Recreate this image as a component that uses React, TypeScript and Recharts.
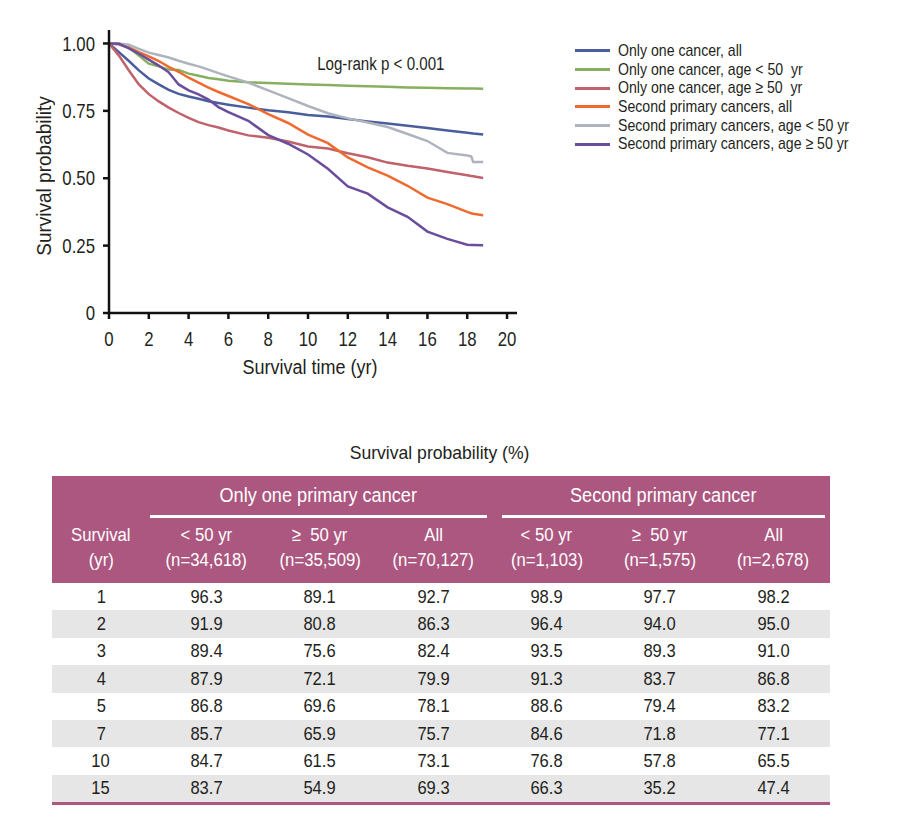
import React from 'react'
import { LineChart, Line, XAxis, YAxis } from 'recharts'

// survival curves
const times = [0, 0.5, 1, 1.5, 2, 2.5, 3, 3.5, 4, 4.5, 5, 5.5, 6, 7, 8, 9, 10, 11, 12, 13, 14, 15, 16, 17, 18, 18.2, 18.3, 18.8]
const oneAll = [1, 0.968, 0.935, 0.9, 0.87, 0.848, 0.828, 0.813, 0.803, 0.795, 0.786, 0.779, 0.773, 0.762, 0.752, 0.745, 0.735, 0.729, 0.72, 0.711, 0.703, 0.695, 0.686, 0.677, 0.669, 0.667, 0.666, 0.662]
const oneYoung = [1, 0.998, 0.985, 0.955, 0.925, 0.915, 0.903, 0.902, 0.888, 0.88, 0.872, 0.867, 0.862, 0.856, 0.853, 0.851, 0.848, 0.846, 0.843, 0.841, 0.839, 0.837, 0.836, 0.834, 0.833, 0.833, 0.833, 0.832]
const oneOld = [1, 0.955, 0.9, 0.848, 0.812, 0.785, 0.762, 0.742, 0.724, 0.708, 0.697, 0.688, 0.677, 0.659, 0.65, 0.636, 0.618, 0.61, 0.593, 0.578, 0.558, 0.546, 0.536, 0.523, 0.511, 0.508, 0.507, 0.501]
const secAll = [1, 0.997, 0.985, 0.968, 0.952, 0.935, 0.913, 0.895, 0.873, 0.855, 0.836, 0.82, 0.805, 0.775, 0.738, 0.705, 0.662, 0.63, 0.577, 0.54, 0.51, 0.472, 0.428, 0.404, 0.375, 0.37, 0.368, 0.363]
const secYoung = [1, 1, 0.995, 0.98, 0.966, 0.957, 0.948, 0.936, 0.925, 0.915, 0.903, 0.89, 0.878, 0.855, 0.826, 0.797, 0.768, 0.741, 0.722, 0.707, 0.69, 0.664, 0.638, 0.594, 0.584, 0.581, 0.56, 0.56]
const secOld = [1, 0.999, 0.982, 0.962, 0.94, 0.918, 0.893, 0.848, 0.826, 0.811, 0.792, 0.764, 0.745, 0.713, 0.66, 0.628, 0.588, 0.535, 0.47, 0.443, 0.392, 0.357, 0.302, 0.275, 0.253, 0.252, 0.252, 0.251]

const xTicks = [0, 2, 4, 6, 8, 10, 12, 14, 16, 18, 20]
const yTicks = [0, 0.25, 0.5, 0.75, 1]

const series = [
  { key: 'oneAll', name: 'Only one cancer, all', color: '#4a5d9c', values: oneAll },
  { key: 'oneYoung', name: 'Only one cancer, age < 50  yr', color: '#86b05f', values: oneYoung },
  { key: 'oneOld', name: 'Only one cancer, age \u2265 50  yr', color: '#bf626b', values: oneOld },
  { key: 'secAll', name: 'Second primary cancers, all', color: '#ef6a2e', values: secAll },
  { key: 'secYoung', name: 'Second primary cancers, age < 50 yr', color: '#aeb4be', values: secYoung },
  { key: 'secOld', name: 'Second primary cancers, age \u2265 50 yr', color: '#6a4d9c', values: secOld },
]

// table
const tableYears = ['1', '2', '3', '4', '5', '7', '10', '15']
const tOneYoung = ['96.3', '91.9', '89.4', '87.9', '86.8', '85.7', '84.7', '83.7']
const tOneOld = ['89.1', '80.8', '75.6', '72.1', '69.6', '65.9', '61.5', '54.9']
const tOneAll = ['92.7', '86.3', '82.4', '79.9', '78.1', '75.7', '73.1', '69.3']
const tSecYoung = ['98.9', '96.4', '93.5', '91.3', '88.6', '84.6', '76.8', '66.3']
const tSecOld = ['97.7', '94.0', '89.3', '83.7', '79.4', '71.8', '57.8', '35.2']
const tSecAll = ['98.2', '95.0', '91.0', '86.8', '83.2', '77.1', '65.5', '47.4']
const colHeads = [
  ['< 50 yr', '(n=34,618)'],
  ['\u2265  50 yr', '(n=35,509)'],
  ['All', '(n=70,127)'],
  ['< 50 yr', '(n=1,103)'],
  ['\u2265  50 yr', '(n=1,575)'],
  ['All', '(n=2,678)'],
]

const FONT = '"Liberation Sans", Arial, Helvetica, sans-serif'
const INK = '#231f20'
const MAGENTA = '#ab577f'

const data = times.map((t, i) => {
  const row: Record<string, number> = { t }
  series.forEach(s => { row[s.key] = s.values[i] })
  return row
})

// squeezed text to mimic the condensed face of the original
function Cond({ k, origin = 'center', children }: { k: number; origin?: string; children: React.ReactNode }) {
  return (
    <span style={{ display: 'inline-block', transform: `scaleX(${k})`, transformOrigin: origin, whiteSpace: 'pre' }}>
      {children}
    </span>
  )
}

const fmtY = (v: number) => (v === 0 ? '0' : v.toFixed(2))

function YTick(props: any) {
  const { x, y, payload } = props
  return (
    <text transform={`translate(${x},${y}) scale(0.84,1)`} textAnchor="end" dy="0.36em" fill={INK} fontSize={20} fontFamily={FONT}>
      {fmtY(payload.value)}
    </text>
  )
}

function XTick(props: any) {
  const { x, y, payload } = props
  return (
    <text transform={`translate(${x},${y}) scale(0.84,1)`} textAnchor="middle" dy="0.71em" fill={INK} fontSize={20} fontFamily={FONT}>
      {payload.value}
    </text>
  )
}

function SurvivalTable() {
  const left = 52
  const firstW = 98
  const colW = 113.3
  const cols = [tOneYoung, tOneOld, tOneAll, tSecYoung, tSecOld, tSecAll]
  const cx = (j: number) => left + firstW + colW * j
  const cell: React.CSSProperties = { position: 'absolute', textAlign: 'center', fontSize: 19, color: INK }
  return (
    <div style={{ position: 'absolute', left: 0, top: 0, width: 900, height: 830, fontFamily: FONT }}>
      <div style={{ position: 'absolute', left: 340, width: 200, top: 442, textAlign: 'center', fontSize: 18.5, color: INK }}>
        <Cond k={0.95}>Survival probability (%)</Cond>
      </div>
      <div style={{ position: 'absolute', left, top: 476, width: 778, height: 107, background: MAGENTA }} />
      <div style={{ position: 'absolute', left: 150, width: 337, top: 484, textAlign: 'center', color: '#fff', fontSize: 19.5 }}>
        <Cond k={0.93}>Only one primary cancer</Cond>
      </div>
      <div style={{ position: 'absolute', left: 502, width: 323, top: 484, textAlign: 'center', color: '#fff', fontSize: 19.5 }}>
        <Cond k={0.93}>Second primary cancer</Cond>
      </div>
      <div style={{ position: 'absolute', left: 150, width: 337, top: 515, height: 2.5, background: '#fff' }} />
      <div style={{ position: 'absolute', left: 502, width: 323, top: 515, height: 2.5, background: '#fff' }} />
      <div style={{ position: 'absolute', left, width: firstW, top: 522, textAlign: 'center', color: '#fff', fontSize: 19, lineHeight: '25px' }}>
        <Cond k={0.88}>Survival</Cond><br /><Cond k={0.88}>(yr)</Cond>
      </div>
      {colHeads.map((h, j) => (
        <div key={j} style={{ position: 'absolute', left: cx(j), width: colW, top: 522, textAlign: 'center', color: '#fff', fontSize: 19, lineHeight: '25px' }}>
          <Cond k={0.88}>{h[0]}</Cond><br /><Cond k={0.88}>{h[1]}</Cond>
        </div>
      ))}
      {tableYears.map((y, i) => {
        const top = 583 + i * 27.4
        return (
          <div key={y} style={{ position: 'absolute', left, top, width: 778, height: 27.4, background: i % 2 === 1 ? '#e6e6e6' : '#fff' }}>
            <div style={{ ...cell, left: 0, width: firstW, top: 2.5 }}><Cond k={0.87}>{y}</Cond></div>
            {cols.map((c, j) => (
              <div key={j} style={{ ...cell, left: firstW + colW * j, width: colW, top: 2.5 }}><Cond k={0.87}>{c[i]}</Cond></div>
            ))}
          </div>
        )
      })}
      <div style={{ position: 'absolute', left, top: 802, width: 778, height: 3, background: MAGENTA }} />
    </div>
  )
}

export default function App() {
  return (
    <div style={{ position: 'absolute', left: 0, top: 0, width: 920, height: 830, background: '#fff', fontFamily: FONT }}>
      <div style={{ position: 'absolute', left: 0, top: 0 }}>
        <LineChart width={560} height={390} data={data} margin={{ top: 30, right: 43, bottom: 47, left: 49 }}>
          <XAxis
            type="number"
            dataKey="t"
            domain={[0, 20.5]}
            ticks={xTicks}
            height={30}
            stroke="#111"
            strokeWidth={2.5}
            tickSize={6}
            tickMargin={13}
            tick={<XTick />}
          />
          <YAxis
            type="number"
            domain={[0, 1.05]}
            ticks={yTicks}
            width={60}
            stroke="#111"
            strokeWidth={2.5}
            tickSize={6}
            tickMargin={8}
            tick={<YTick />}
          />
          {series.map(s => (
            <Line
              key={s.key}
              type="linear"
              dataKey={s.key}
              name={s.name}
              stroke={s.color}
              strokeWidth={2.5}
              dot={false}
              isAnimationActive={false}
            />
          ))}
        </LineChart>
      </div>
      <div style={{ position: 'absolute', left: 44, top: 176, width: 0, height: 0 }}>
        <div style={{ position: 'absolute', left: 0, top: 0, transform: 'translate(-50%, -50%) rotate(-90deg)', whiteSpace: 'nowrap', fontSize: 20, color: INK }}>
          <Cond k={0.95}>Survival probability</Cond>
        </div>
      </div>
      <div style={{ position: 'absolute', left: 210, width: 200, top: 356, textAlign: 'center', fontSize: 20, color: INK }}>
        <Cond k={0.9}>Survival time (yr)</Cond>
      </div>
      <div style={{ position: 'absolute', left: 291, width: 180, top: 54, textAlign: 'center', fontSize: 18, color: INK }}>
        <Cond k={0.84}>Log-rank p &lt; 0.001</Cond>
      </div>
      <div style={{ position: 'absolute', left: 575, top: 41.5 }}>
        {series.map(s => (
          <div key={s.key} style={{ display: 'flex', alignItems: 'center', height: 18.7, whiteSpace: 'pre' }}>
            <div style={{ width: 35, height: 3, background: s.color, marginRight: 8, flex: 'none' }} />
            <span style={{ fontSize: 17, color: INK }}><Cond k={0.83} origin="left center">{s.name}</Cond></span>
          </div>
        ))}
      </div>
      <SurvivalTable />
    </div>
  )
}
